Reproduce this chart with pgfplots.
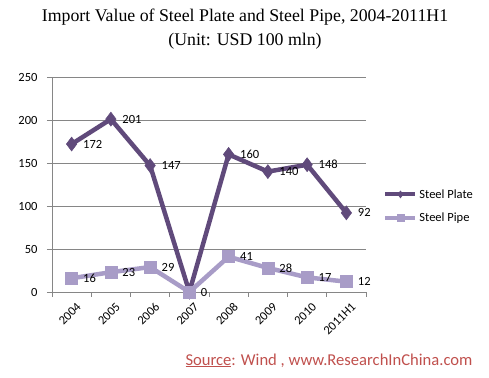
\documentclass[border=0pt]{standalone}
\usepackage{pgfplots}
\pgfplotsset{compat=1.18}
\usepackage{fontspec}
\setmainfont{Carlito}
\newfontfamily\titlefont{Liberation Serif}
\definecolor{plate}{RGB}{96,74,123}
\definecolor{pipe}{RGB}{168,156,199}
\definecolor{gridc}{RGB}{134,134,134}
\definecolor{src}{RGB}{192,80,77}
\begin{document}
\begin{tikzpicture}
\useasboundingbox (0,0) rectangle (489bp,378bp);
\node[font=\titlefont\fontsize{17.8bp}{19bp}\selectfont] at (245bp,361bp) {Import Value of Steel Plate and Steel Pipe, 2004-2011H1};
\node[font=\titlefont\fontsize{17.8bp}{19bp}\selectfont] at (245bp,337bp) {(Unit: USD 100 mln)};
\node[font=\fontsize{16.6bp}{18bp}\selectfont, text=src, anchor=base east] at (476bp,13bp) {\underline{Source}: Wind , www.ResearchInChina.com};
\begin{axis}[
  at={(52bp,86bp)}, anchor=south west,
  scale only axis, width=314bp, height=215bp,
  /pgf/number format/assume math mode=true,
  xmin=-0.5, xmax=7.5, ymin=0, ymax=250,
  ytick={0,50,...,250},
  xtick={0,...,7},
  xticklabels={2004,2005,2006,2007,2008,2009,2010,2011H1},
  minor xtick={-0.5,0.5,...,7.5},
  axis x line*=bottom, axis y line*=left,
  axis line style={gridc, line width=0.8bp},
  ymajorgrids, major grid style={gridc, line width=0.8bp},
  tick align=outside, major tick length=5bp, minor tick length=5bp,
  major x tick style={draw=none},
  tick style={gridc, line width=0.8bp},
  minor tick style={gridc, line width=0.8bp},
  tick label style={font=\fontsize{12.5bp}{14bp}\selectfont, black},
  xticklabel style={rotate=45, anchor=north east, xshift=3bp, yshift=-3bp},
  yticklabel style={xshift=-6bp},
  point meta=explicit symbolic,
  nodes near coords,
  every node near coord/.append style={anchor=west, xshift=8bp, black, font=\fontsize{12.5bp}{14bp}\selectfont},
  legend style={at={(1.055,0.4)}, anchor=west, draw=none, fill=none,
    font=\fontsize{12.5bp}{14bp}\selectfont, row sep=9bp, inner sep=0pt},
  legend cell align=left,
  legend image code/.code={\draw[mark repeat=2,mark phase=2,line width=4bp,mark size=3.5bp] plot coordinates {(0bp,0bp) (15bp,0bp) (30bp,0bp)};},
  clip=false,
]
\addplot[color=plate, line width=4.5bp, mark=diamond*, mark size=7bp, mark options={line width=0.5bp}]
  coordinates {(0,172)[172] (1,201)[201] (2,147)[147] (3,0)[0] (4,160)[160] (5,140)[140] (6,148)[148] (7,92)[92]};
\addlegendentry{Steel Plate}
\addplot[color=pipe, line width=4.5bp, mark=square*, mark size=6bp, mark options={line width=0.5bp}]
  coordinates {(0,16)[16] (1,23)[23] (2,29)[29] (3,0)[] (4,41)[41] (5,28)[28] (6,17)[17] (7,12)[12]};
\addlegendentry{Steel Pipe}
\end{axis}
\end{tikzpicture}
\end{document}
